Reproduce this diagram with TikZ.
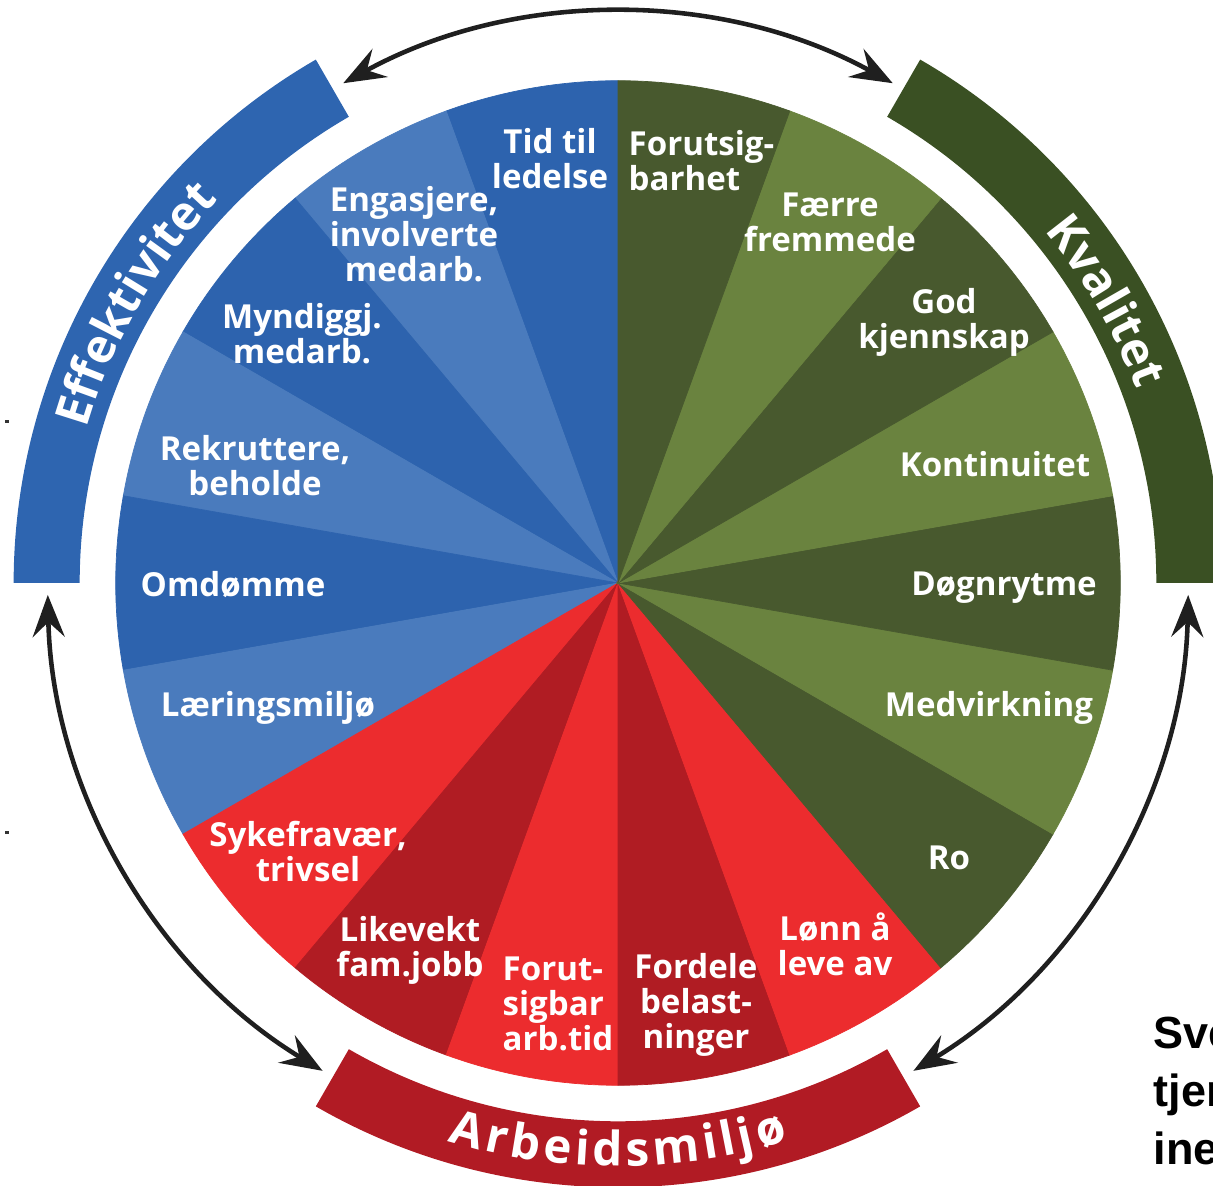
\documentclass[tikz,border=0pt]{standalone}
\usepackage{fontspec}
\newfontfamily\labfamily{Open Sans}
\newfontfamily\arialfamily{Liberation Sans}
\usetikzlibrary{arrows.meta,decorations.text}
\definecolor{bD}{HTML}{2D63AE}
\definecolor{bL}{HTML}{4A7BBD}
\definecolor{effband}{HTML}{2E65B0}
\definecolor{gD}{HTML}{48592E}
\definecolor{gL}{HTML}{6A833F}
\definecolor{kvband}{HTML}{3A5023}
\definecolor{rB}{HTML}{EC2C2E}
\definecolor{rD}{HTML}{B01C23}
\definecolor{arbband}{HTML}{B11B24}
\newcommand\labfont{\labfamily\bfseries\fontsize{9.4pt}{9.96pt}\selectfont}
\newcommand\bandfont{\labfamily\bfseries\fontsize{13.5pt}{16pt}\selectfont}
\newcommand\topstrut{\rule{0pt}{0.8em}}
\newcommand\myband[3]{\fill[#3] (#1:5.38cm) arc[start angle=#1,end angle=#2,radius=5.38cm] -- (#2:6.04cm) arc[start angle=#2,end angle=#1,radius=6.04cm] -- cycle;}
\begin{document}
\begin{tikzpicture}[x=0.01cm,y=0.01cm,
  lab/.style={text=white,font=\labfont,align=center,inner sep=0pt,anchor=north},
  labl/.style={lab,align=left,anchor=north west},
  arr/.style={line width=1.3pt,draw=black!88,>={Stealth[length=0.42cm,width=0.32cm,inset=0.15cm]},<->},
  tinymark/.style={fill=black!80}]
\useasboundingbox (-618,-603) rectangle (595,583);
\begin{scope}
\clip (-618,-603) rectangle (595,583);
% wheel
\foreach \a/\c in {90/bD,110/bL,130/bD,150/bL,170/bD,190/bL,210/rB,230/rD,250/rB,270/rD,290/rB,310/gD,330/gL,350/gD,10/gL,30/gD,50/gL,70/gD}
  \filldraw[fill=\c,draw=\c,line width=0.2pt] (0,0) -- (\a:5.02cm) arc[start angle=\a,end angle={\a+20},radius=5.02cm] -- cycle;
% bands
\myband{180}{120}{effband}
\myband{60}{0}{kvband}
\myband{-120}{-60}{arbband}
% arrows
\coordinate (t1) at (118.8:5.70cm);
\coordinate (r1) at (-1.2:5.70cm);
\coordinate (l1) at (181.2:5.70cm);
\draw[arr] (t1) arc[start angle=118.8,end angle=61.2,radius=5.70cm];
\draw[arr] (r1) arc[start angle=-1.2,end angle=-58.8,radius=5.70cm];
\draw[arr] (l1) arc[start angle=181.2,end angle=238.8,radius=5.70cm];
% band texts
\path[decorate,decoration={text along path,text={|\bandfont|Effektivitet},text align=center,text color=white}]
  (180:5.53cm) arc[start angle=180,end angle=120,radius=5.53cm];
\path[decorate,decoration={text along path,text={|\bandfont|Kvalitet},text align=center,text color=white}]
  (60:5.53cm) arc[start angle=60,end angle=0,radius=5.53cm];
\path[decorate,decoration={text along path,text={|\bandfont|Arbeidsmiljø},text align={fit to path},text color=white}]
  (-107:5.83cm) arc[start angle=-107,end angle=-73,radius=5.83cm];
% wedge labels
\node[lab] (tid) at (-68,457) {\topstrut Tid til\\ledelse};
\node[labl] (forutg) at (10,455) {\topstrut Forutsig-\\barhet};
\node[lab] (faerre) at (212,394) {\topstrut Færre\\fremmede};
\node[lab] (god) at (326,297) {\topstrut God\\kjennskap};
\node[lab] (kont) at (377,134) {\topstrut Kontinuitet};
\node[lab] (dogn) at (386,15) {\topstrut Døgnrytme};
\node[lab] (medv) at (371,-106) {\topstrut Medvirkning};
\node[lab] (ro) at (331,-259) {\topstrut Ro};
\node[lab] (lonn) at (217,-329) {\topstrut Lønn å\\leve av};
\node[lab] (fordele) at (78,-368) {\topstrut Fordele\\belast-\\ninger};
\node[labl] (forutr) at (-116,-370) {\topstrut Forut-\\sigbar\\arb.tid};
\node[lab] (likevekt) at (-208,-331) {\topstrut Likevekt\\fam.jobb};
\node[lab] (syke) at (-310,-236) {\topstrut Sykefravær,\\trivsel};
\node[lab] (laering) at (-350,-106) {\topstrut Læringsmiljø};
\node[lab] (omd) at (-385,14) {\topstrut Omdømme};
\node[lab] (rekr) at (-363,150) {\topstrut Rekruttere,\\beholde};
\node[lab] (mynd) at (-316,282) {\topstrut Myndiggj.\\medarb.};
\node[lab] (engas) at (-204,399) {\topstrut Engasjere,\\involverte\\medarb.};
% side text
\node[anchor=north west,align=left,inner sep=0pt,font=\arialfamily\bfseries\fontsize{12.8pt}{16.5pt}\selectfont] (side) at (535,-431) {\rule{0pt}{0.75em}Sve\\tjen\\ine};
% tiny marks
\fill[tinymark] (-613,160) rectangle (-609,163);
\fill[tinymark] (-613,-251) rectangle (-609,-248);
\end{scope}
\end{tikzpicture}
\end{document}
